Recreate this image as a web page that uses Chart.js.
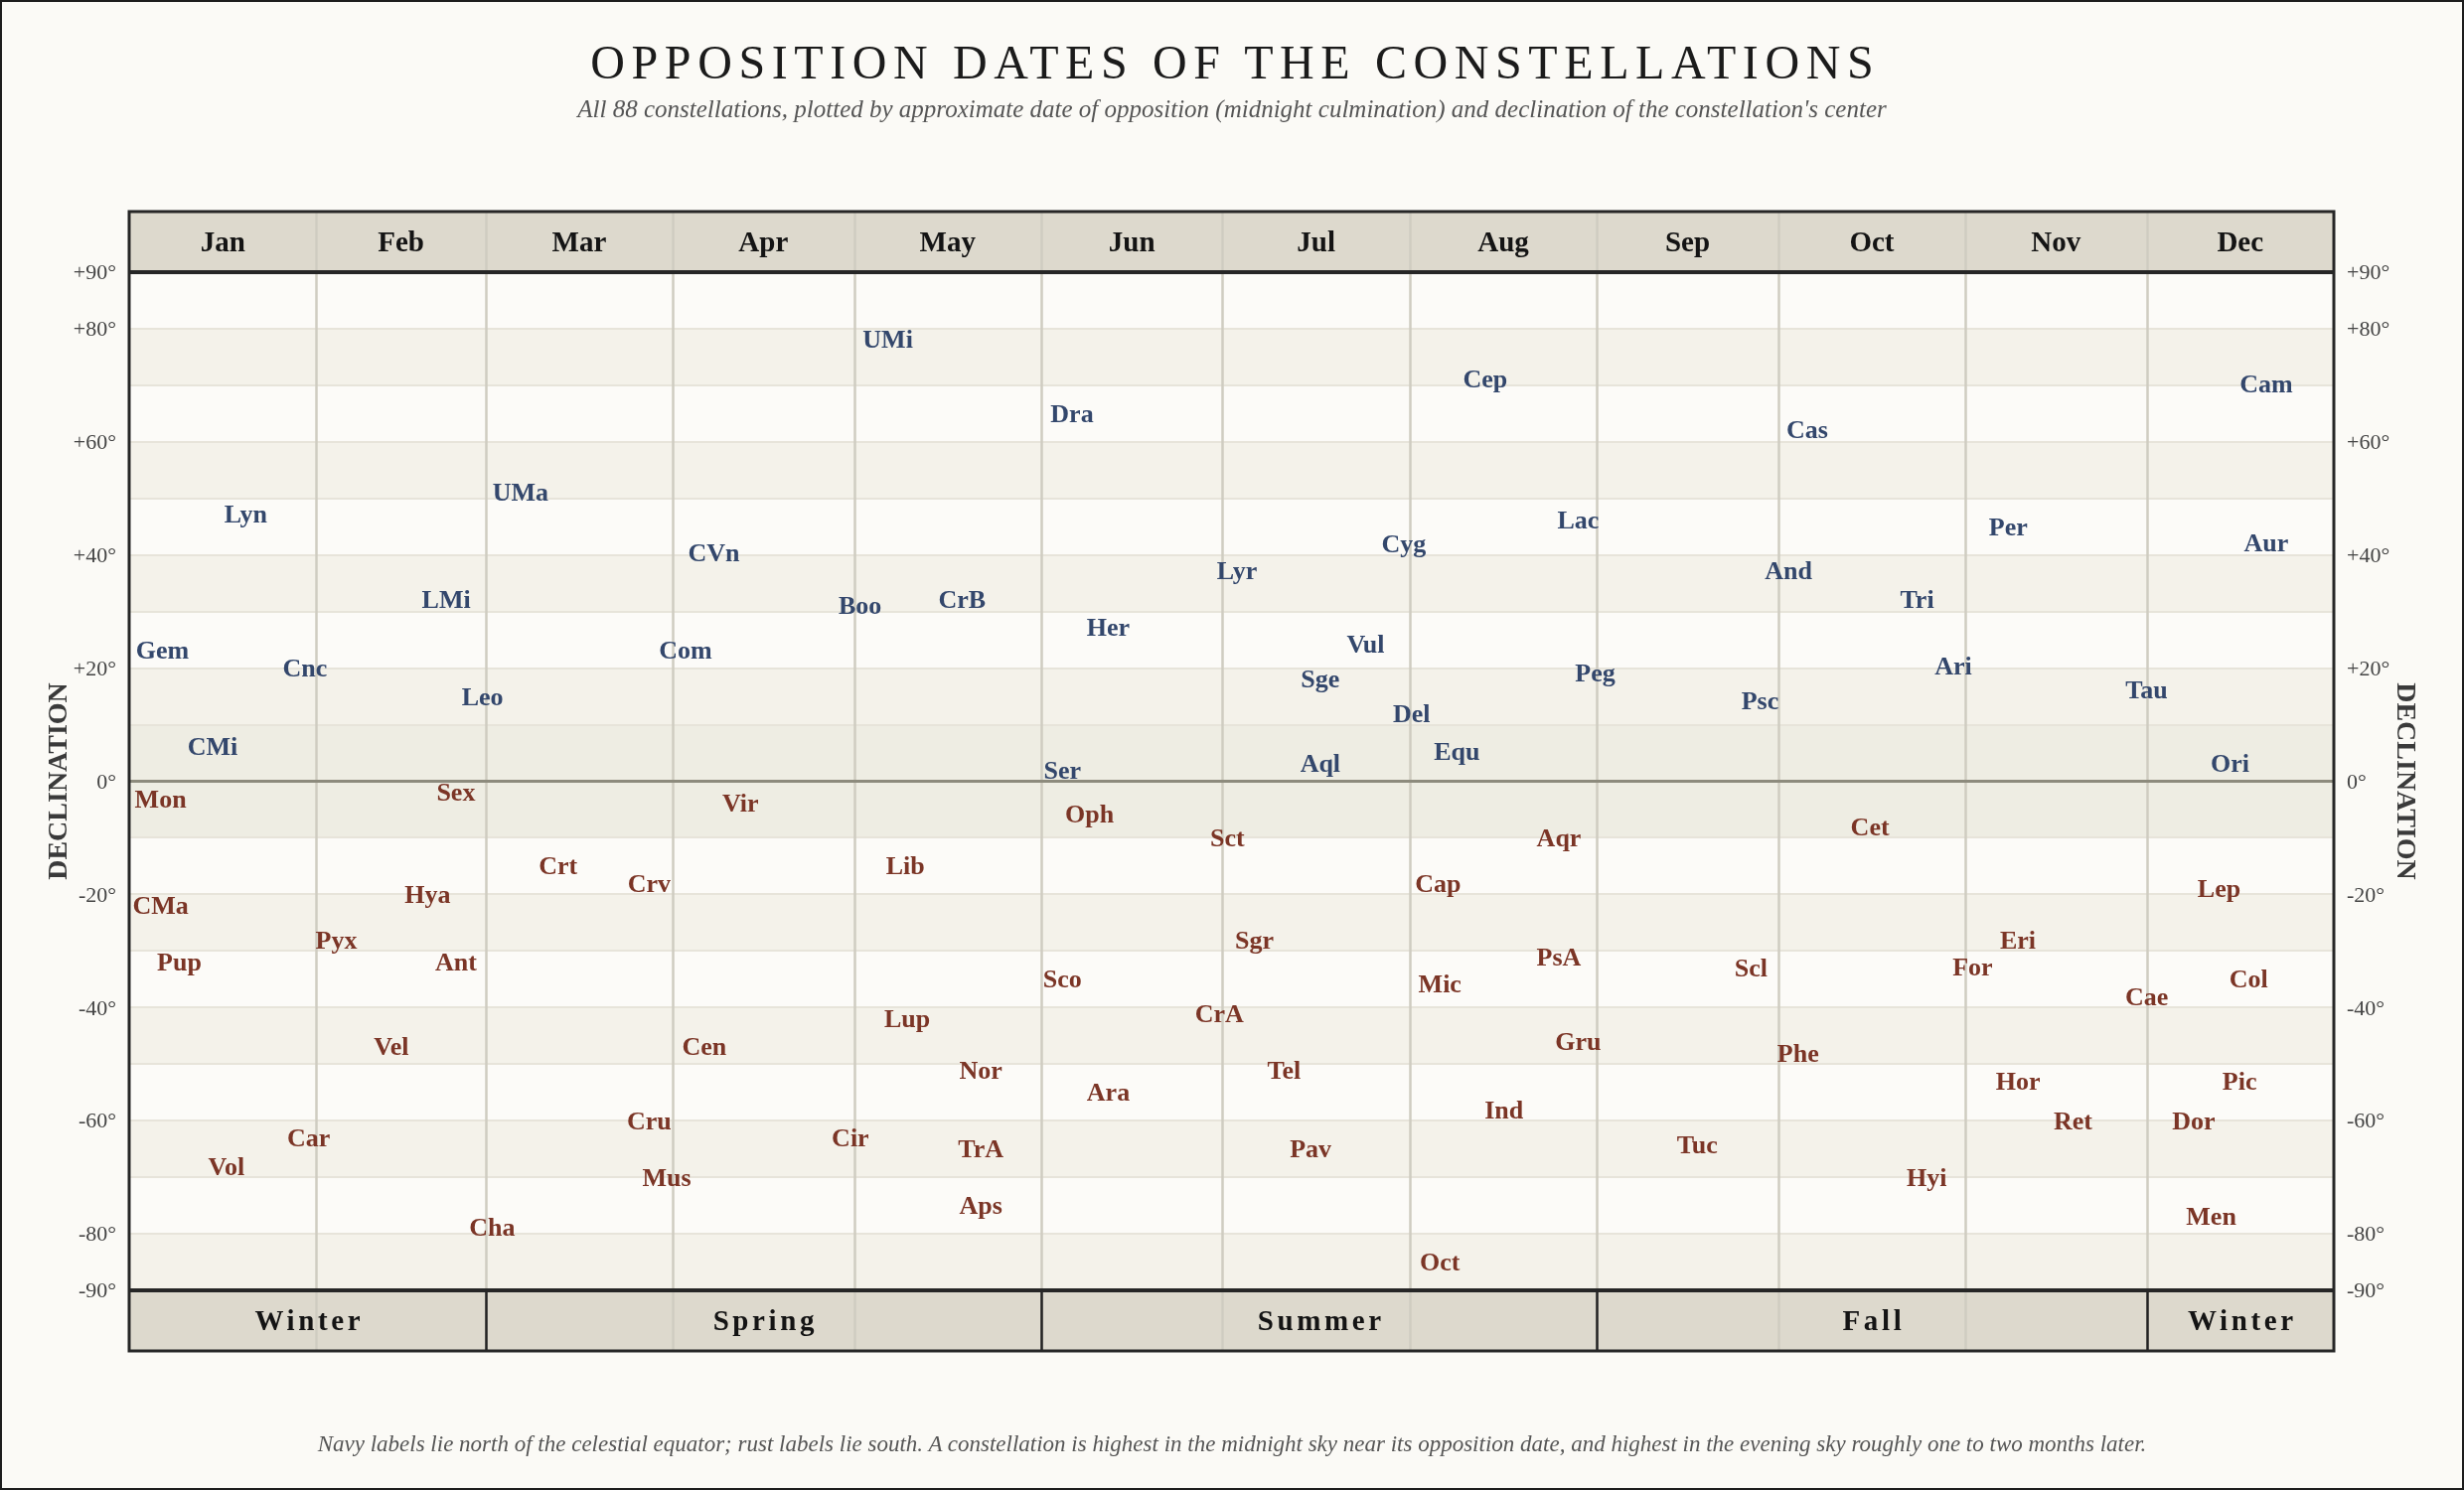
<!DOCTYPE html>
<html>
<head>
<meta charset="utf-8">
<title>Opposition Dates of the Constellations</title>
<script src="https://cdn.jsdelivr.net/npm/chart.js@4.4.1/dist/chart.umd.min.js"></script>
<style>
  html, body { margin:0; padding:0; background:#fbfaf6; }
  #page { position:relative; width:2480px; height:1500px; background:#fbfaf6; overflow:hidden; }
  #chart { position:absolute; left:0; top:0; }
  .txt { position:absolute; left:0; width:2480px; text-align:center; font-family:"Liberation Serif","Times New Roman",serif; white-space:nowrap; }
  #title { top:35px; font-size:48px; line-height:56px; letter-spacing:6.6px; padding-left:6.6px; box-sizing:border-box; color:#1b1b1b; }
  #subtitle { top:95px; font-size:25px; line-height:30px; font-style:italic; color:#555; }
  #footer { top:1439px; font-size:23px; line-height:30px; font-style:italic; color:#555; }
  #frame { position:absolute; left:0; top:0; width:2480px; height:1500px; border:2px solid #1d1d1d; box-sizing:border-box; pointer-events:none; }
</style>
</head>
<body>
<div id="page">
  <canvas id="chart" width="2480" height="1500"></canvas>
  <div class="txt" id="title">OPPOSITION DATES OF THE CONSTELLATIONS</div>
  <div class="txt" id="subtitle">All 88 constellations, plotted by approximate date of opposition (midnight culmination) and declination of the constellation's center</div>
  <div class="txt" id="footer">Navy labels lie north of the celestial equator; rust labels lie south. A constellation is highest in the midnight sky near its opposition date, and highest in the evening sky roughly one to two months later.</div>
  <div id="frame"></div>
</div>
<script>
// ---------------- DATA ----------------
const months = ['Jan','Feb','Mar','Apr','May','Jun','Jul','Aug','Sep','Oct','Nov','Dec'];
const monthStartDay = [0,31,59,90,120,151,181,212,243,273,304,334,365];
const seasonNames = ['Winter','Spring','Summer','Fall','Winter'];
const seasonStartDay = [0,59,151,243,334];
const seasonEndDay = [59,151,243,334,365];
const decGrid = [-90,-80,-70,-60,-50,-40,-30,-20,-10,0,10,20,30,40,50,60,70,80,90];
const decTickLabels = [90,80,60,40,20,0,-20,-40,-60,-80,-90];

// Northern constellations (navy): opposition day-of-year, declination
const northNames = ['UMi','Dra','Cep','Cam','Cas','Lyn','UMa','CVn','Lac','Per','Aur','Cyg','Lyr','And','LMi','Boo','CrB','Tri','Her','Vul','Gem','Com','Cnc','Ari','Peg','Sge','Leo','Tau','Psc','Del','CMi','Equ','Aql','Ori','Ser'];
const northDay = [125.6,156.1,224.5,353.8,277.8,19.3,64.8,96.8,239.9,311.1,353.8,211.0,183.4,274.7,52.5,121.0,137.9,296.0,162.1,204.7,5.5,92.1,29.1,302.0,242.7,197.2,58.5,334.0,270.0,212.3,13.8,219.8,197.2,347.8,154.5];
const northDec = [78.1,65.0,71.1,70.3,62.2,47.2,51.1,40.3,46.1,45.0,42.2,41.9,37.2,37.2,32.2,31.1,32.2,32.2,27.2,24.2,23.1,23.1,20.0,20.3,19.2,18.1,15.0,16.1,14.2,11.9,6.1,5.3,3.1,3.1,1.9];

// Southern constellations (rust)
const southNames = ['Mon','Sex','Vir','Oph','Sct','Aqr','Cet','Crt','Lib','Crv','Cap','Hya','Lep','CMa','Pyx','Sgr','Eri','Pup','Ant','PsA','Scl','For','Sco','Col','Mic','Cae','CrA','Lup','Gru','Vel','Cen','Phe','Nor','Tel','Hor','Pic','Ara','Ind','Cru','Ret','Dor','Car','Cir','Tuc','TrA','Pav','Vol','Mus','Hyi','Aps','Men','Cha','Oct'];
const southDay = [5.2,54.1,101.2,159.0,181.8,236.7,288.2,71.0,128.5,86.1,216.7,49.4,346.0,5.2,34.3,186.3,312.7,8.3,54.1,236.7,268.5,305.2,154.5,350.9,217.0,334.0,180.5,128.8,239.9,43.4,95.2,276.3,141.0,191.2,312.7,349.4,162.1,227.6,86.1,321.8,341.8,29.7,119.4,259.6,141.0,195.6,16.1,89.0,297.6,141.0,344.7,60.1,217.0];
const southDec = [-3.1,-1.9,-3.9,-5.8,-10.0,-10.0,-8.1,-15.0,-15.0,-18.1,-18.1,-20.0,-18.9,-21.9,-28.1,-28.1,-28.1,-31.9,-31.9,-31.1,-33.1,-32.8,-35.0,-35.0,-35.8,-38.1,-41.1,-41.9,-46.1,-46.9,-46.9,-48.1,-51.1,-51.1,-53.1,-53.1,-55.0,-58.1,-60.0,-60.0,-60.0,-63.1,-63.1,-64.2,-65.0,-65.0,-68.1,-70.0,-70.0,-75.0,-76.9,-78.9,-85.0];

// ---------------- STYLE ----------------
const FONT = '"Liberation Serif", "Times New Roman", serif';
const NAVY = '#33476c';
const RUST = '#7b3526';
const HEADER_H = 61;

function fmtDec(v) { return v > 0 ? '+' + v + '°' : v + '°'; }

const points = (names, days, decs) => names.map((n, i) => ({ x: days[i], y: decs[i], name: n }));

const framePlugin = {
  id: 'framePlugin',
  beforeDraw(chart) {
    const { ctx, chartArea: a, scales: { y } } = chart;
    ctx.save();
    for (let i = 0; i < decGrid.length - 1; i++) {
      const lo = decGrid[i], hi = decGrid[i + 1];
      let fill = (i % 2 === 0) ? '#f4f2ea' : '#fcfbf8';
      if (lo === -10 || lo === 0) fill = '#eeede3';
      const yt = y.getPixelForValue(hi), yb = y.getPixelForValue(lo);
      ctx.fillStyle = fill;
      ctx.fillRect(a.left, yt, a.right - a.left, yb - yt);
    }
    ctx.restore();
  },
  beforeDatasetsDraw(chart) {
    const { ctx, chartArea: a, scales: { x, y } } = chart;
    const headTop = a.top - HEADER_H, footBot = a.bottom + HEADER_H;
    const w = a.right - a.left;
    const line = (x1, y1, x2, y2) => { ctx.beginPath(); ctx.moveTo(x1, y1); ctx.lineTo(x2, y2); ctx.stroke(); };
    ctx.save();
    ctx.fillStyle = '#ddd9cd';
    ctx.fillRect(a.left, headTop, w, HEADER_H);
    ctx.fillRect(a.left, a.bottom, w, HEADER_H);
    // month lines
    ctx.strokeStyle = '#cfccc1';
    ctx.lineWidth = 2.5;
    for (let i = 1; i < monthStartDay.length - 1; i++) {
      const px = Math.round(x.getPixelForValue(monthStartDay[i])) + 0.5;
      line(px, headTop, px, footBot);
    }
    // equator
    const y0 = y.getPixelForValue(0);
    ctx.strokeStyle = '#8d8b7d';
    ctx.lineWidth = 3;
    line(a.left, y0, a.right, y0);
    // season separators
    ctx.strokeStyle = '#222';
    ctx.lineWidth = 2.5;
    for (let s = 1; s < seasonStartDay.length; s++) {
      const px = Math.round(x.getPixelForValue(seasonStartDay[s])) + 0.5;
      line(px, a.bottom, px, footBot);
    }
    // outer border
    ctx.strokeStyle = '#262626';
    ctx.lineWidth = 3;
    ctx.strokeRect(a.left, headTop, w, footBot - headTop);
    ctx.lineWidth = 4;
    line(a.left, a.top, a.right, a.top);
    line(a.left, a.bottom, a.right, a.bottom);
    // month names
    ctx.fillStyle = '#141414';
    ctx.font = 'bold 29px ' + FONT;
    ctx.textAlign = 'center';
    ctx.textBaseline = 'middle';
    for (let i = 0; i < months.length; i++) {
      const cx = x.getPixelForValue((monthStartDay[i] + monthStartDay[i + 1]) / 2);
      ctx.fillText(months[i], cx, headTop + HEADER_H / 2 + 2.5);
    }
    // seasons
    ctx.letterSpacing = '3.6px';
    for (let s = 0; s < seasonNames.length; s++) {
      const cx = x.getPixelForValue((seasonStartDay[s] + seasonEndDay[s]) / 2);
      ctx.fillText(seasonNames[s], cx + 2, a.bottom + HEADER_H / 2 + 2);
    }
    ctx.letterSpacing = '0px';
    ctx.restore();
  },
  afterDatasetsDraw(chart) {
    const { ctx } = chart;
    ctx.save();
    ctx.font = 'bold 26px ' + FONT;
    ctx.textAlign = 'center';
    ctx.textBaseline = 'middle';
    chart.data.datasets.forEach((ds, di) => {
      const meta = chart.getDatasetMeta(di);
      ctx.fillStyle = ds.labelColor;
      meta.data.forEach((el, k) => {
        ctx.fillText(ds.data[k].name, el.x, el.y + 1.75);
      });
    });
    ctx.restore();
  }
};

const yTicks = {
  autoSkip: false,
  padding: 13,
  labelOffset: 1.5,
  color: '#444',
  font: { family: FONT, size: 22 },
  callback: (v) => decTickLabels.includes(v) ? fmtDec(v) : ''
};
const setGridTicks = (scale) => { scale.ticks = decGrid.map(v => ({ value: v })); };
const axisTitle = {
  display: true,
  text: 'DECLINATION',
  color: '#3a3a3a',
  font: { family: FONT, size: 28, weight: 'bold' },
  padding: { top: 43, bottom: 0 }
};

new Chart(document.getElementById('chart'), {
  type: 'scatter',
  data: {
    datasets: [
      { label: 'North', data: points(northNames, northDay, northDec), labelColor: NAVY, pointRadius: 0, pointHoverRadius: 0, showLine: false },
      { label: 'South', data: points(southNames, southDay, southDec), labelColor: RUST, pointRadius: 0, pointHoverRadius: 0, showLine: false }
    ]
  },
  options: {
    responsive: false,
    animation: false,
    devicePixelRatio: 1,
    events: [],
    layout: { padding: { top: 274, bottom: 201, left: 0, right: 0 } },
    plugins: { legend: { display: false }, tooltip: { enabled: false } },
    scales: {
      x: { type: 'linear', min: 0, max: 365, display: false },
      y: {
        type: 'linear', position: 'left', min: -90, max: 90,
        afterBuildTicks: setGridTicks,
        afterFit: (s) => { s.width = 130; },
        grid: { color: (c) => c.tick && c.tick.value === 0 ? 'rgba(0,0,0,0)' : '#e7e4da', lineWidth: 2, drawTicks: false },
        border: { display: false },
        ticks: yTicks,
        title: axisTitle
      },
      y2: {
        type: 'linear', position: 'right', min: -90, max: 90,
        afterBuildTicks: setGridTicks,
        afterFit: (s) => { s.width = 131; },
        grid: { display: false, drawTicks: false },
        border: { display: false },
        ticks: yTicks,
        title: axisTitle
      }
    }
  },
  plugins: [framePlugin]
});
</script>
</body>
</html>
